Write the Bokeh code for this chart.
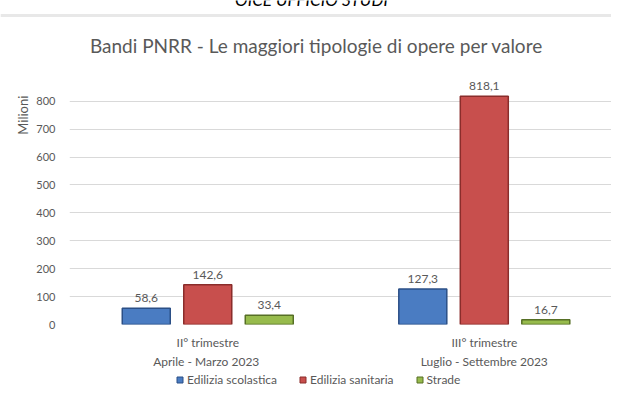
import numpy as np
from bokeh.plotting import figure
from bokeh.layouts import column, row
from bokeh.models import (Range1d, FixedTicker, ColumnDataSource, LabelSet, Label,
                          Legend, LegendItem, Span)
from bokeh.core.properties import value
from bokeh.embed import file_html
from bokeh.resources import INLINE

# ---- data ----
categories = ["II° trimestre\nAprile  - Marzo 2023", "III° trimestre\nLuglio - Settembre 2023"]
series = ["Edilizia scolastica", "Edilizia sanitaria", "Strade"]
scolastica = [58.6, 127.3]
sanitaria = [142.6, 818.1]
strade = [33.4, 16.7]
y_ticks = [0, 100, 200, 300, 400, 500, 600, 700, 800]

title_text = "Bandi PNRR - Le maggiori tipologie di opere per valore"
header_text = "OICE UFFICIO STUDI"
y_label = "Milioni"

FONT = "Lato"
GREY = "#595959"
fills = ["#4A7CC2", "#C84F4D", "#97BB4C"]
lines = ["#2B4F86", "#8A2D2B", "#566F25"]

W = 611
H_TOP = 58
H_MAIN = 314
H_LEG = 15


def blank(width, height, xr=None, yr=None):
    f = figure(width=width, height=height,
               x_range=xr or Range1d(0, width), y_range=yr or Range1d(0, height),
               output_backend="svg", toolbar_location=None,
               min_border=0, min_border_left=0, min_border_right=0,
               min_border_top=0, min_border_bottom=0)
    f.axis.visible = False
    f.grid.visible = False
    f.outline_line_color = None
    return f


# ---- top: header + title ----
top = blank(W, H_TOP)
top.add_layout(Span(location=43, dimension="width", line_color="#E8E8E8", line_width=3))
top.add_layout(Label(x=311, y=49, text=header_text, text_align="center",
                     text_baseline="bottom", text_font=FONT, text_font_size="17px",
                     text_font_style="italic", text_color="#000000"))
top.add_layout(Label(x=316, y=13, text=title_text, text_align="center",
                     text_baseline="middle", text_font=FONT, text_font_size="19px",
                     text_color=GREY))

# ---- left: axis title ----
left = blank(30, H_MAIN)
left.add_layout(Label(x=22, y=264, text=y_label, angle=np.pi / 2, text_align="center",
                      text_baseline="middle", text_font=FONT, text_font_size="13px",
                      text_color=GREY))

# ---- main chart ----
centers = np.arange(len(categories)) + 0.5
offsets = [-0.2224, 0.0, 0.2224]
bar_w = 0.1736

p = figure(width=W - 30, height=H_MAIN, x_range=Range1d(0, 1.960), y_range=Range1d(0, 892),
           output_backend="svg", toolbar_location=None,
           min_border_left=39, min_border_right=0, min_border_top=17, min_border_bottom=46)
p.outline_line_color = None

p.xgrid.grid_line_color = None
p.ygrid.grid_line_color = "#D9D9D9"
p.ygrid.grid_line_width = 1

p.yaxis.ticker = FixedTicker(ticks=y_ticks)
p.yaxis.axis_line_color = None
p.yaxis.major_tick_line_color = None
p.yaxis.minor_tick_line_color = None
p.yaxis.major_tick_out = 0
p.yaxis.major_tick_in = 0
p.yaxis.major_label_text_font = FONT
p.yaxis.major_label_text_font_size = "11px"
p.yaxis.major_label_text_color = GREY
p.yaxis.major_label_standoff = 14

p.xaxis.ticker = FixedTicker(ticks=list(centers))
p.xaxis.major_label_overrides = {float(c): cat for c, cat in zip(centers, categories)}
p.xaxis.axis_line_color = None
p.xaxis.major_tick_line_color = None
p.xaxis.minor_tick_line_color = None
p.xaxis.major_tick_out = 0
p.xaxis.major_tick_in = 0
p.xaxis.major_label_text_font = FONT
p.xaxis.major_label_text_font_size = "12px"
p.xaxis.major_label_text_color = GREY
p.xaxis.major_label_text_line_height = 1.3
p.xaxis.major_label_standoff = 10

sources = []
for vals, off, fc, lc in zip([scolastica, sanitaria, strade], offsets, fills, lines):
    src = ColumnDataSource(dict(
        x=centers + off,
        top=vals,
        lbl=[f"{v:.1f}".replace(".", ",") for v in vals],
    ))
    sources.append(src)
    p.vbar(x="x", top="top", width=bar_w, source=src, fill_color=fc,
           line_color=lc, line_width=1.5)
    p.add_layout(LabelSet(x="x", y="top", text="lbl", source=src, text_align="center",
                          text_baseline="bottom", y_offset=6, text_font=value(FONT),
                          text_font_size=value("12px"), text_color=value(GREY)))

# ---- bottom: legend ----
leg = blank(W, H_LEG, xr=Range1d(0, 1.96), yr=Range1d(0, 892))
items = []
for name, src, fc, lc in zip(series, sources, fills, lines):
    r = leg.scatter(x="x", y="top", source=src, marker="square", size=6,
                    fill_color=fc, line_color=lc, visible=False)
    items.append(LegendItem(label=name, renderers=[r]))
legend = Legend(items=items, orientation="horizontal", location=(172, 0),
                glyph_width=15, glyph_height=15, label_height=12, label_standoff=-3,
                spacing=18, padding=0, margin=0, border_line_color=None,
                background_fill_alpha=0, inactive_fill_alpha=0, label_text_font=FONT,
                label_text_font_size="12px", label_text_color=GREY)
leg.add_layout(legend, "center")

layout = column(top, row(left, p, spacing=0), leg, spacing=0)
open("out.html", "w").write(file_html(layout, INLINE))
